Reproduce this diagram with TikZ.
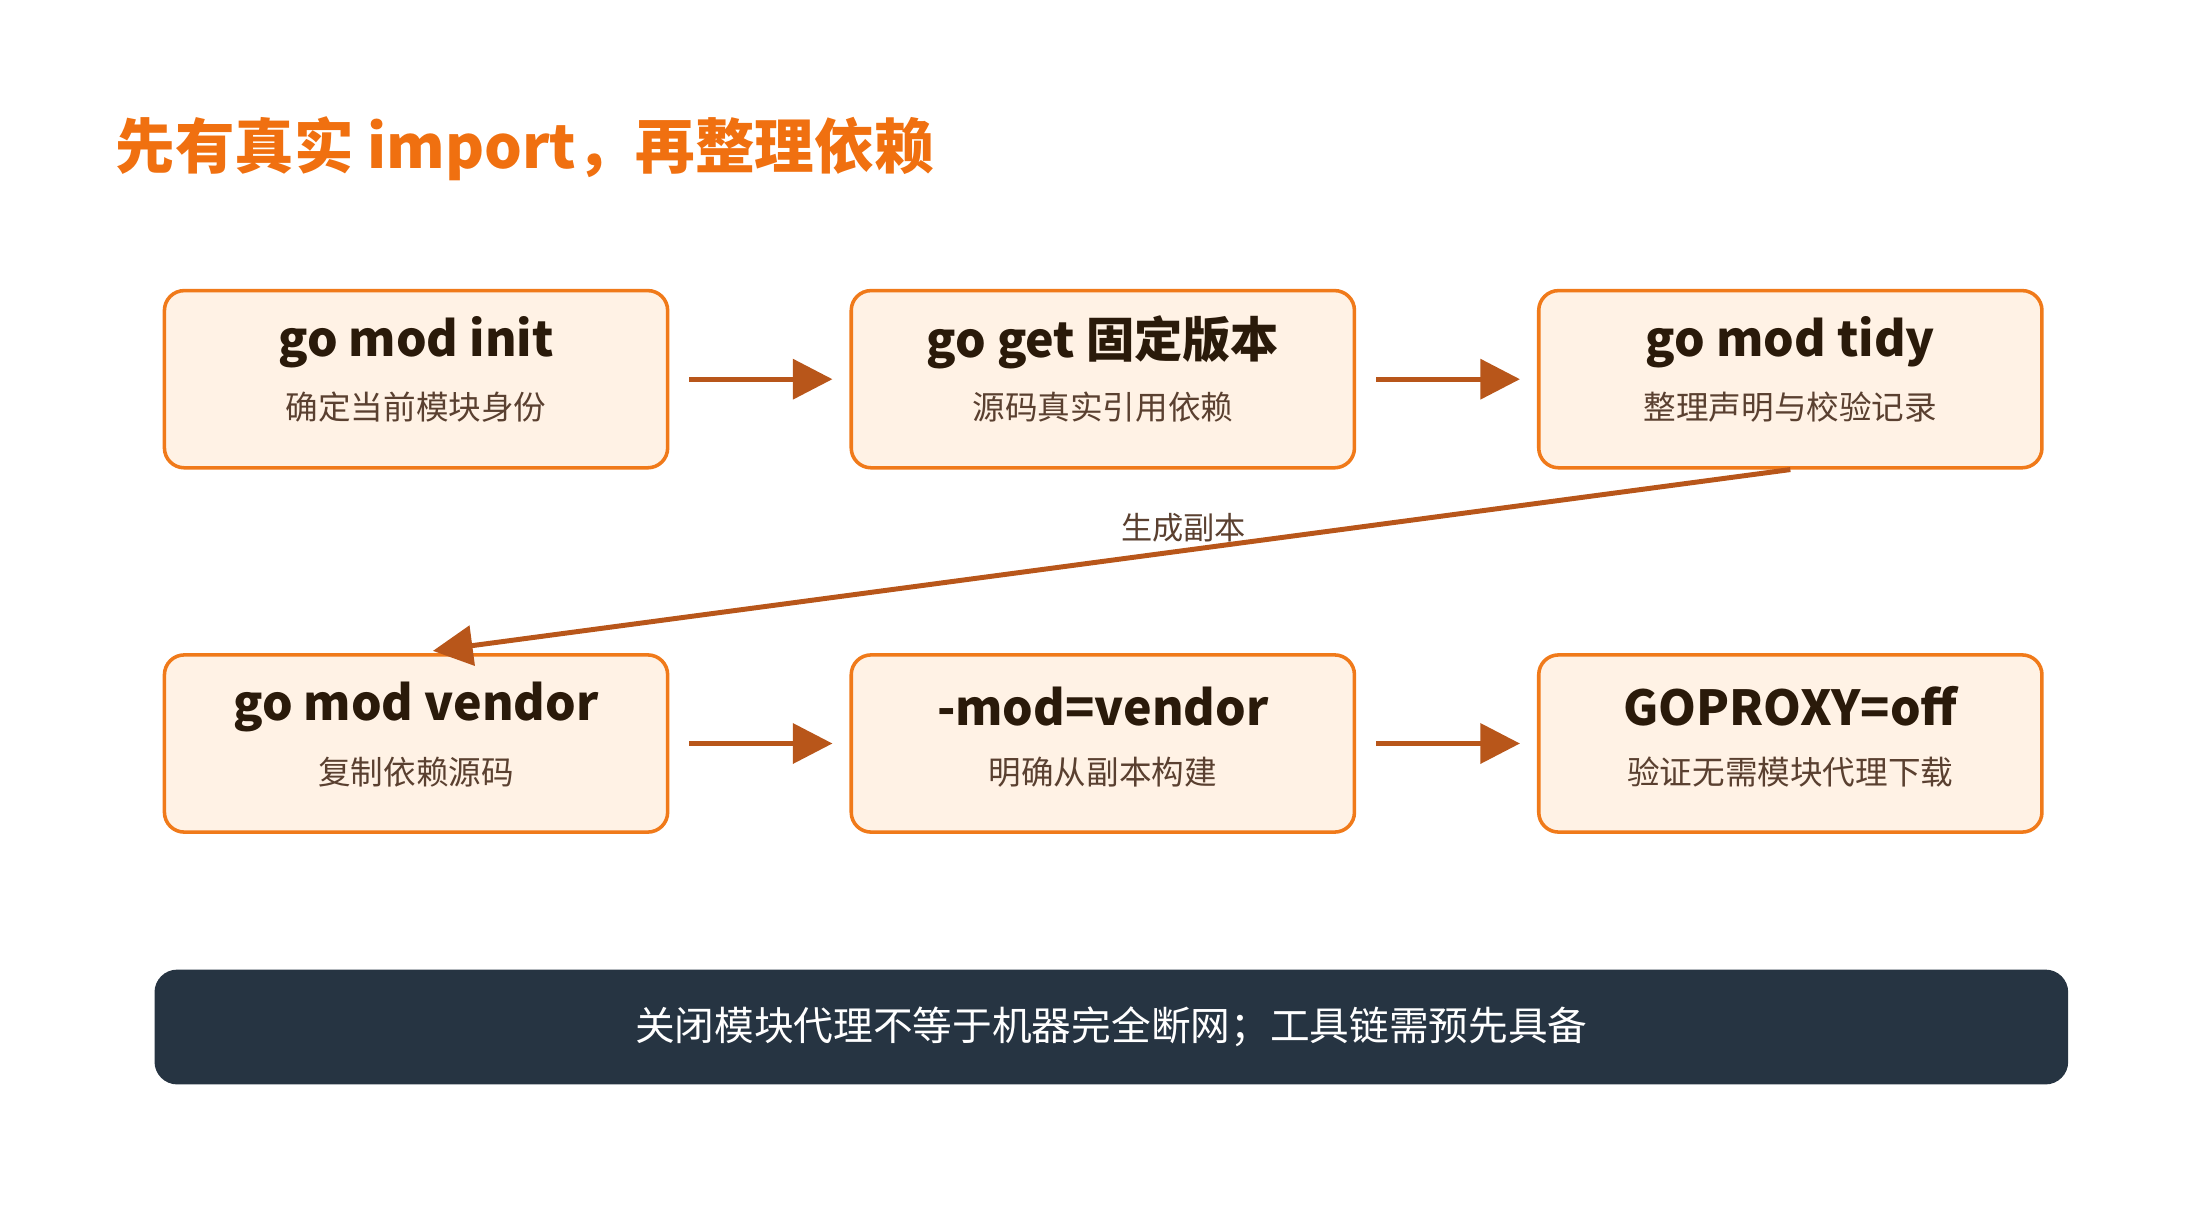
\documentclass[tikz,border=0pt]{standalone}
\usepackage{fontspec}
\setmainfont{Noto Sans CJK SC}
\usetikzlibrary{arrows.meta}
\definecolor{org}{HTML}{F07A1A}
\definecolor{boxfill}{HTML}{FFF2E5}
\definecolor{arr}{HTML}{B8561A}
\definecolor{dark}{HTML}{263442}
\definecolor{ttl}{HTML}{F07010}
\definecolor{htxt}{HTML}{2A1A0A}
\definecolor{stxt}{HTML}{5A4030}
\begin{document}
\begin{tikzpicture}[x=1pt,y=-1pt,
 box/.style={draw=org,line width=2.5pt,fill=boxfill,rounded corners=14pt,minimum width=355pt,minimum height=125pt,inner sep=0pt},
 flow/.style={draw=arr,line width=3.5pt,-{Triangle[length=28pt,width=28pt]}},
 ht/.style={font=\fontsize{34}{40}\selectfont\bfseries,text=htxt},
 st/.style={font=\fontsize{23}{28}\selectfont,text=stxt}]
\useasboundingbox (0,0) rectangle (1552,852);
\node[anchor=west,font=\fontsize{42}{50}\selectfont\bfseries,text=ttl] (title) at (78,105) {先有真实 import，再整理依赖};
\foreach \n/\x/\y/\a/\b in {b1/293.5/267.5/go mod init/确定当前模块身份, b2/778/267.5/go get 固定版本/源码真实引用依赖, b3/1263/267.5/go mod tidy/整理声明与校验记录, b4/293.5/524.5/go mod vendor/复制依赖源码, b5/778/524.5/-mod=vendor/明确从副本构建, b6/1263/524.5/GOPROXY=off/验证无需模块代理下载}{
 \node[box] (\n) at (\x,\y) {};
 \node[ht] (\n t) at (\x,\y-26) {\a};
 \node[st] (\n s) at (\x,\y+20) {\b};
}
\draw[flow,shorten <=14pt,shorten >=12pt] (b1) -- (b2);
\draw[flow,shorten <=14pt,shorten >=12pt] (b2) -- (b3);
\draw[flow,shorten <=14pt,shorten >=12pt] (b4) -- (b5);
\draw[flow,shorten <=14pt,shorten >=12pt] (b5) -- (b6);
\draw[flow,shorten >=12pt] (b3.south) -- (b4.north);
\node[st,font=\fontsize{22}{26}\selectfont] (lbl) at (835,372) {生成副本};
\node[fill=dark,rounded corners=16pt,minimum width=1350pt,minimum height=81pt,text=white,font=\fontsize{28}{34}\selectfont] (bar) at (784,724.5) {关闭模块代理不等于机器完全断网；工具链需预先具备};
\end{tikzpicture}
\end{document}
